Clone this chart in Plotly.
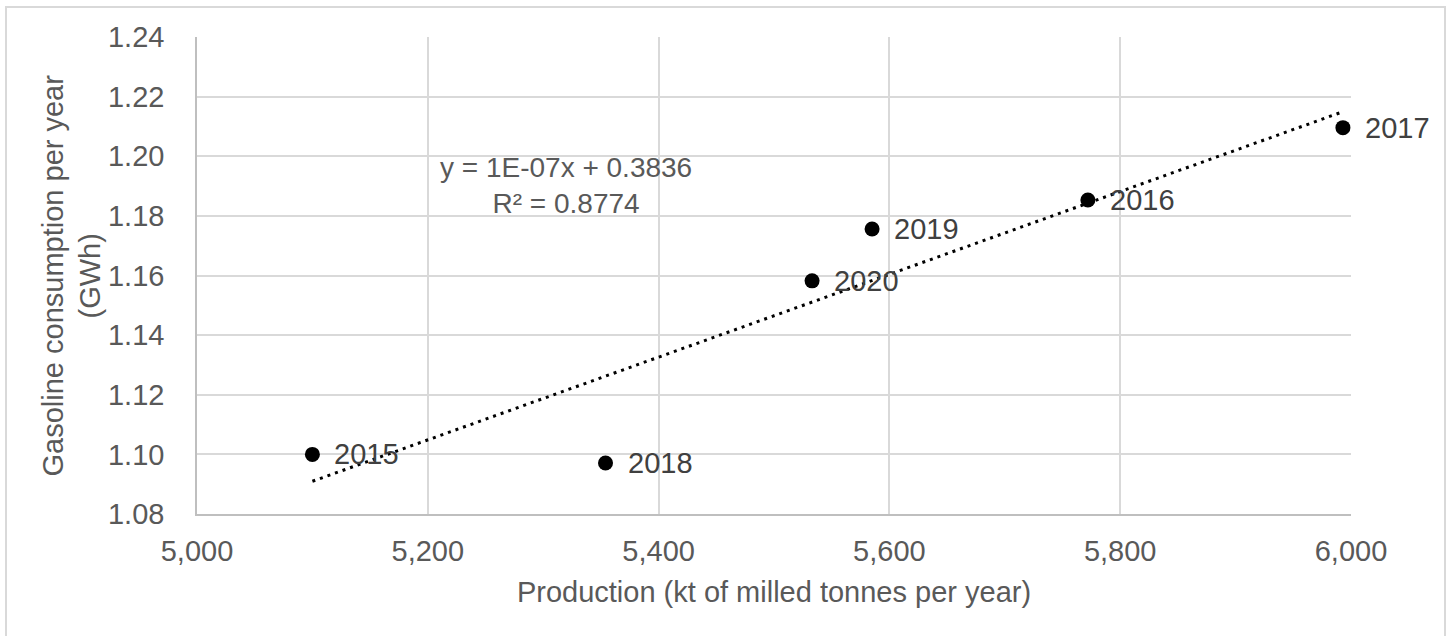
import numpy as np
import plotly.graph_objects as go

# Production (kt milled per year) vs gasoline consumption (GWh)
years = ["2015", "2016", "2017", "2018", "2019", "2020"]
production = [5100, 5772, 5993, 5354, 5585, 5533]
gasoline = [1.100, 1.1853, 1.2096, 1.0971, 1.1756, 1.1582]

x_ticks = [5000, 5200, 5400, 5600, 5800, 6000]
y_ticks = [1.08, 1.10, 1.12, 1.14, 1.16, 1.18, 1.20, 1.22, 1.24]

equation_text = "y = 1E-07x + 0.3836<br>R² = 0.8774"
y_title = "Gasoline consumption per year<br>(GWh)"
x_title = "Production (kt of milled tonnes per year)"

# Least-squares linear trend over the observed range
slope, intercept = np.polyfit(production, gasoline, 1)
trend_x = [min(production), max(production)]
trend_y = [slope * v + intercept for v in trend_x]

FONT = "Liberation Sans, Arial, sans-serif"
TEXT_GREY = "#595959"
LABEL_GREY = "#404040"
GRID = "#d9d9d9"

# plot area geometry in pixels
L, R, T, B = 197, 99, 37, 122
PW, PH = 1450 - L - R, 636 - T - B

fig = go.Figure()

fig.add_trace(go.Scatter(
    x=trend_x, y=trend_y, mode="lines",
    line=dict(color="black", width=3, dash="3px,5px"),
    hoverinfo="skip", showlegend=False,
))

fig.add_trace(go.Scatter(
    x=production, y=gasoline, mode="markers",
    marker=dict(color="black", size=15),
    showlegend=False,
))

for yr, px, gy in zip(years, production, gasoline):
    fig.add_annotation(
        x=px, y=gy, text=yr, showarrow=False,
        xanchor="left", yanchor="middle", xshift=20,
        font=dict(family=FONT, size=29, color=LABEL_GREY),
    )

fig.add_annotation(
    x=5320, y=1.1902, text=equation_text, showarrow=False,
    xanchor="center", yanchor="middle", align="center",
    font=dict(family=FONT, size=28, color=TEXT_GREY),
)

# rotated y-axis title
fig.add_annotation(
    xref="paper", yref="paper", x=(71 - L) / PW, y=0.5,
    text=y_title, showarrow=False, textangle=-90,
    xanchor="center", yanchor="middle", align="center",
    font=dict(family=FONT, size=29, color=TEXT_GREY),
)

# Light outer frame around the chart
fig.add_shape(
    type="rect", xref="paper", yref="paper",
    x0=(6 - L) / PW, x1=(1445 - L) / PW,
    y0=(PH + T - 640) / PH, y1=(PH + T - 7) / PH,
    line=dict(color=GRID, width=2), fillcolor="rgba(0,0,0,0)", layer="below",
)

fig.update_layout(
    width=1450, height=636,
    margin=dict(l=L, r=R, t=T, b=B),
    paper_bgcolor="white", plot_bgcolor="white",
    font=dict(family=FONT, size=29, color=TEXT_GREY),
    xaxis=dict(
        range=[5000, 6000], tickvals=x_ticks, tickformat=",d",
        showgrid=True, gridcolor=GRID, gridwidth=1.5,
        showline=True, linecolor="#bfbfbf", linewidth=1.5,
        zeroline=False, ticks="", ticklabelstandoff=10,
        title=dict(text=x_title,
                   font=dict(size=29, color=TEXT_GREY), standoff=16),
    ),
    yaxis=dict(
        range=[1.08, 1.24], tickvals=y_ticks, tickformat=".2f",
        showgrid=True, gridcolor=GRID, gridwidth=1.5,
        showline=True, linecolor="#bfbfbf", linewidth=1.5,
        zeroline=False, ticks="", ticklabelstandoff=25,
    ),
)

fig.write_html("out.html")
